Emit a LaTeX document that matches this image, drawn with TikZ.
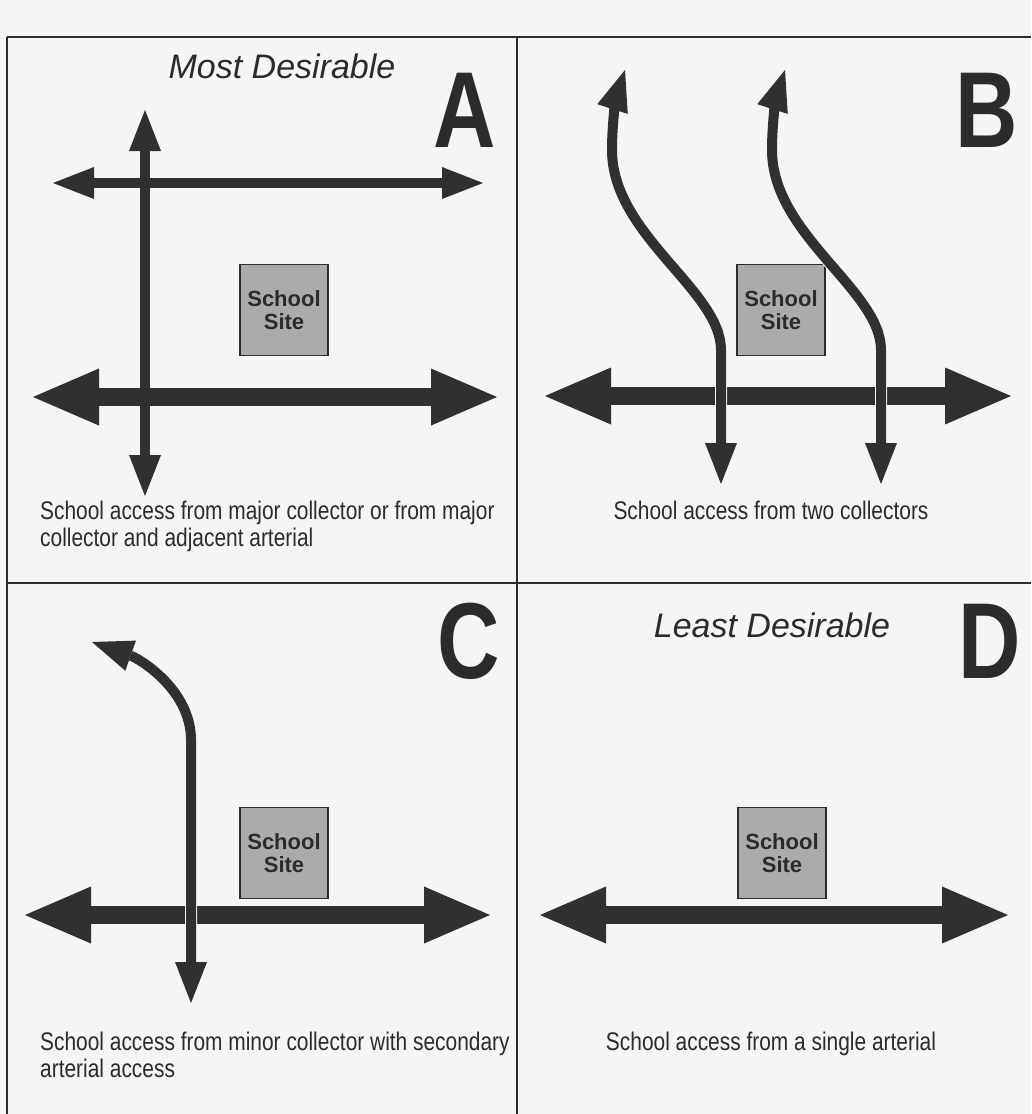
\documentclass[tikz,border=0pt]{standalone}
\usepackage{fontspec}
\setmainfont{Liberation Sans}
\newfontfamily\narrowfont{Liberation Sans}[FakeStretch=0.82]
\newfontfamily\letterfont{Liberation Sans}[FakeStretch=0.8]
\usetikzlibrary{arrows.meta,positioning}

\definecolor{paper}{HTML}{F5F5F3}
\definecolor{ink}{HTML}{2B2B2B}
\definecolor{road}{HTML}{303030}
\definecolor{sitegray}{HTML}{ABABAB}

\begin{document}
\begin{tikzpicture}[x=1pt, y=-1pt,
  minor/.style={draw=road, line width=10pt,
    {Triangle[length=41pt,width=32pt,line width=0pt]}-{Triangle[length=41pt,width=32pt,line width=0pt]}},
  major/.style={draw=road, line width=18pt,
    {Triangle[length=66pt,width=57pt,line width=0pt]}-{Triangle[length=66pt,width=57pt,line width=0pt]}},
  casing/.style={preaction={draw=paper, line width=12pt, arrows=-}},
  site/.style={draw=ink, line width=1.5pt, fill=sitegray, minimum width=88pt,
    minimum height=91pt, inner sep=0pt, align=center, text=ink,
    font=\bfseries\fontsize{22}{23}\selectfont},
  letter/.style={anchor=base, inner sep=0pt, text=ink,
    font=\letterfont\bfseries\fontsize{108}{108}\selectfont},
  heading/.style={anchor=base, inner sep=0pt, text=ink,
    font=\itshape\fontsize{34}{40}\selectfont},
  caption/.style={inner sep=0pt, text=ink,
    font=\narrowfont\fontsize{25.5}{27}\selectfont},
  frame/.style={draw=ink, line width=1.5pt}]

\fill[paper] (0,0) rectangle (1031,1114);
\useasboundingbox (0,0) rectangle (1031,1114);

\draw[frame] (7,37) -- (1031,37);
\draw[frame] (7,37) -- (7,1114);
\draw[frame] (517,37) -- (517,1114);
\draw[frame] (7,583) -- (1031,583);

\foreach \name/\x/\y in {a/284/310, b/781/310, c/284/853, d/782/853}
  \node[site] (site-\name) at (\x,\y) {School\\Site};

\draw[minor] (53,183) -- (483,183);

\foreach \xa/\xb/\y in {33/497/397, 545/1011/396, 25/490/915, 540/1008/915}
  \draw[major] (\xa,\y) -- (\xb,\y);

\draw[minor] (145,110) -- (145,496);

\foreach \dx in {0,160}
  \draw[minor, casing] (721+\dx,484) -- (721+\dx,350)
    .. controls (721+\dx,290) and (612+\dx,235) .. (612+\dx,150)
    .. controls (612+\dx,120) and (617+\dx,95) .. (625+\dx,70);

\draw[minor, casing] (191,1003) -- (191,740)
  .. controls (191,690) and (140,659) .. (92,642);

\node[heading] (most) at (282,78) {Most Desirable};
\node[heading] (least) at (772,637) {Least Desirable};

\foreach \l/\x/\y in {A/465/147, B/987/147, C/469/678, D/990/678}
  \node[letter] (letter-\l) at (\x,\y) {\l};

\node[caption, anchor=north west, align=left] (caption-a) at (40,501)
  {School access from major collector or from major\\collector and adjacent arterial};
\node[caption, anchor=north] (caption-b) at (771,501)
  {School access from two collectors};
\node[caption, anchor=north west, align=left] (caption-c) at (40,1032)
  {School access from minor collector with secondary\\arterial access};
\node[caption, anchor=north] (caption-d) at (771,1032)
  {School access from a single arterial};

\end{tikzpicture}
\end{document}
